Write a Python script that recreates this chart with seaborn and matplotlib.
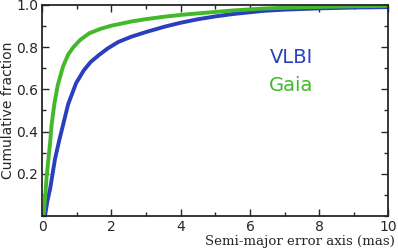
import pandas as pd
import matplotlib.pyplot as plt
from matplotlib.ticker import MultipleLocator
import seaborn as sns

# Cumulative fraction curves
vlbi_x = [0.08, 0.15, 0.23, 0.3, 0.37, 0.48, 0.6, 0.75, 0.98, 1.2, 1.4, 1.64, 1.9, 2.2, 2.58, 3.0, 3.53,
          4.0, 4.48, 5.0, 5.5, 6.37, 7.0, 8.0, 9.0, 10.0]
vlbi_y = [0.0, 0.07, 0.13, 0.2, 0.27, 0.35, 0.43, 0.53, 0.63, 0.69, 0.73, 0.763, 0.795, 0.825, 0.85, 0.872,
          0.897, 0.916, 0.932, 0.946, 0.957, 0.972, 0.978, 0.984, 0.988, 0.99]
gaia_x = [0.04, 0.09, 0.13, 0.18, 0.23, 0.27, 0.35, 0.45, 0.6, 0.75, 0.9, 1.1, 1.36, 1.7, 2.0, 2.58, 3.0, 3.5,
          4.0, 4.48, 5.0, 5.5, 6.37, 7.0, 8.0, 9.0, 10.0]
gaia_y = [0.0, 0.1, 0.19, 0.27, 0.35, 0.43, 0.53, 0.62, 0.708, 0.765, 0.8, 0.835, 0.866, 0.888, 0.902, 0.922,
          0.933, 0.944, 0.953, 0.96, 0.967, 0.974, 0.983, 0.987, 0.991, 0.994, 0.996]

BLUE = "#2a3fbd"
GREEN = "#41b92a"

df = pd.concat([
    pd.DataFrame({"err": vlbi_x, "frac": vlbi_y, "src": "VLBI"}),
    pd.DataFrame({"err": gaia_x, "frac": gaia_y, "src": "Gaia"}),
])

sns.set_style("ticks")
plt.rcParams["font.family"] = ["DejaVu Sans"]

fig, ax = plt.subplots(figsize=(3.98, 2.5), dpi=100)
sns.lineplot(data=df, x="err", y="frac", hue="src", palette={"VLBI": BLUE, "Gaia": GREEN},
             linewidth=2.8, legend=False, ax=ax, sort=False)

ax.set_xlim(0, 10)
ax.set_ylim(0, 1.0)
ax.xaxis.set_minor_locator(MultipleLocator(1))
ax.yaxis.set_minor_locator(MultipleLocator(0.1))
ax.set_yticks([0.2, 0.4, 0.6, 0.8, 1.0])
ax.set_xticks([0, 2, 4, 6, 8, 10])
ax.tick_params(which="both", direction="in", top=True, right=True, labelsize=10, width=1)
ax.tick_params(which="major", length=5, pad=3)
ax.tick_params(which="minor", length=3)
for s in ax.spines.values():
    s.set_linewidth(1.3)

ax.set_xlabel("Semi-major error axis (mas)", family="DejaVu Serif", fontsize=9.6, ha="right", va="top")
ax.xaxis.set_label_coords(1.02, -0.092)
ax.set_ylabel("Cumulative fraction", fontsize=10, labelpad=1)

ax.text(7.2, 0.75, "VLBI", color=BLUE, fontsize=14, ha="center", va="center")
ax.text(7.2, 0.62, "Gaia", color=GREEN, fontsize=14, ha="center", va="center")

fig.subplots_adjust(left=0.106, right=0.976, top=0.98, bottom=0.136)
fig.savefig("out.png", dpi=100)
